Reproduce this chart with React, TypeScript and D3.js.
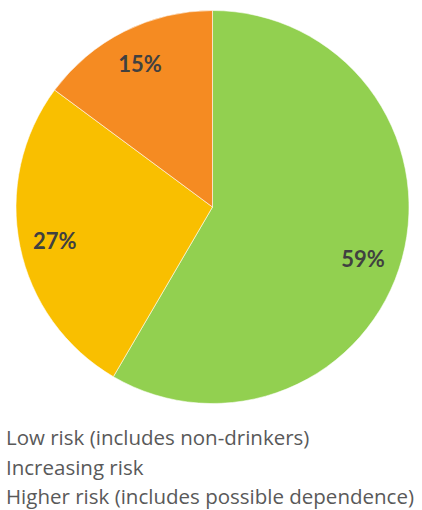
import React, { useMemo } from "react";
import * as d3 from "d3";

// Share of respondents by drinking-risk category (percent)
const categories = [
  "Low risk (includes non-drinkers)",
  "Increasing risk",
  "Higher risk (includes possible dependence)",
];
const values = [59, 27, 15];
const colors = ["#92D050", "#F9BF00", "#F58B22"];
// small label nudges (px) away from the arc centroid
const labelNudge: [number, number][] = [
  [-5, 9.5],
  [0, 1],
  [0, 0],
];

const WIDTH = 422;
const HEIGHT = 510;
const CX = 212.5;
const CY = 207;
const R = 196.5;

export default function App() {
  const arcs = useMemo(() => {
    const pie = d3
      .pie<number>()
      .sort(null)
      .value((d) => d);
    return pie(values);
  }, []);

  const arcGen = d3.arc<d3.PieArcDatum<number>>().innerRadius(0).outerRadius(R);
  const labelArc = d3
    .arc<d3.PieArcDatum<number>>()
    .innerRadius(R * 0.82)
    .outerRadius(R * 0.82);

  return (
    <svg
      width={WIDTH}
      height={HEIGHT}
      style={{ position: "absolute", left: 0, top: 0 }}
    >
      <rect width={WIDTH} height={HEIGHT} fill="#ffffff" />
      <g transform={`translate(${CX},${CY})`}>
        {arcs.map((a, i) => (
          <path
            key={categories[i]}
            d={arcGen(a) ?? ""}
            fill={colors[i]}
            stroke="#ffffff"
            strokeOpacity={0.7}
            strokeWidth={0.8}
          />
        ))}
        {arcs.map((a, i) => {
          const [x, y] = labelArc.centroid(a);
          return (
            <text
              key={`l-${i}`}
              x={x + labelNudge[i][0]}
              y={y + labelNudge[i][1]}
              textAnchor="middle"
              dominantBaseline="central"
              fontFamily="Lato, 'Open Sans', sans-serif"
              fontWeight={700}
              fontSize={22}
              fill="#404040"
            >
              {`${values[i]}%`}
            </text>
          );
        })}
      </g>
      <g fontFamily="'Open Sans', sans-serif" fontSize={20.5} fill="#595959">
        {categories.map((c, i) => (
          <text key={c} x={6} y={445 + i * 29.5}>
            {c}
          </text>
        ))}
      </g>
    </svg>
  );
}
